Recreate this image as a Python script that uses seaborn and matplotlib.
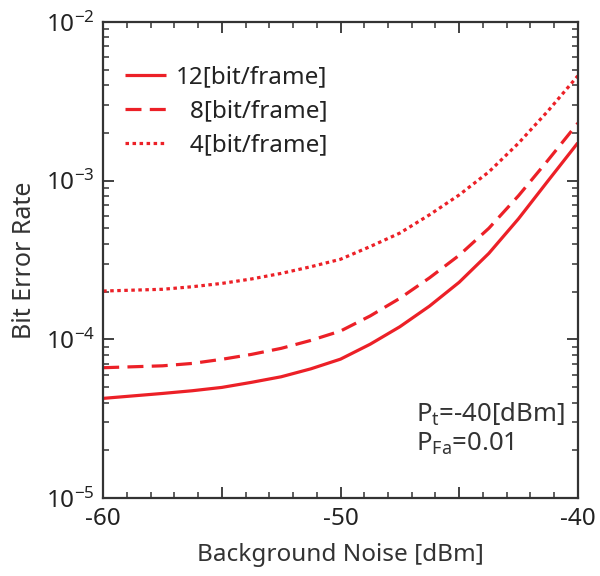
import numpy as np
import pandas as pd
import matplotlib
matplotlib.use("Agg")
import matplotlib.pyplot as plt
import matplotlib.ticker as mticker
import seaborn as sns

# data (log10 of bit error rate)
noise_dbm = [-60, -57.5, -56.25, -55, -53.75, -52.5, -51.25, -50, -48.75, -47.5, -46.25, -45, -43.75, -42.5, -41.25, -40]
log_ber_12 = [-4.371, -4.340, -4.323, -4.302, -4.270, -4.235, -4.185, -4.124, -4.030, -3.920, -3.790, -3.640, -3.458, -3.240, -3.000, -2.762]
log_ber_8 = [-4.178, -4.166, -4.151, -4.125, -4.094, -4.056, -4.006, -3.947, -3.852, -3.741, -3.612, -3.470, -3.300, -3.095, -2.870, -2.638]
log_ber_4 = [-3.695, -3.684, -3.668, -3.647, -3.619, -3.584, -3.542, -3.495, -3.415, -3.330, -3.215, -3.090, -2.945, -2.764, -2.560, -2.340]
series_labels = ["12[bit/frame]", "\u20078[bit/frame]", "\u20074[bit/frame]"]

df = pd.concat([
    pd.DataFrame({"noise": noise_dbm, "ber": 10 ** np.array(vals), "series": lab})
    for vals, lab in zip([log_ber_12, log_ber_8, log_ber_4], series_labels)
])

sns.set_style("ticks")
plt.rcParams["font.family"] = ["Noto Sans", "DejaVu Sans"]
plt.rcParams["mathtext.default"] = "regular"
plt.rcParams["mathtext.fontset"] = "custom"
plt.rcParams["mathtext.rm"] = "Noto Sans"
plt.rcParams["mathtext.it"] = "Noto Sans"

red = "#ec2027"
fig = plt.figure(figsize=(6.0, 5.76), dpi=100)
ax = fig.add_axes([0.172, 0.135, 0.791, 0.827])

# solid / dashed / dotted
sns.lineplot(data=df, x="noise", y="ber", hue="series", style="series",
             palette=[red] * 3, dashes=[(1, 0), (5, 2.6), (1.1, 1.1)],
             linewidth=2.3, ax=ax)

ax.set_yscale("log")
ax.set_xlim(-60, -40)
ax.set_ylim(1e-5, 1e-2)

ax.xaxis.set_major_locator(mticker.MultipleLocator(5))
ax.xaxis.set_minor_locator(mticker.MultipleLocator(1))
ax.xaxis.set_major_formatter(mticker.FuncFormatter(
    lambda v, p: f"{v:.0f}" if abs(v % 10) < 1e-6 else ""))
ax.yaxis.set_major_locator(mticker.LogLocator(base=10, numticks=10))
ax.yaxis.set_minor_locator(mticker.LogLocator(base=10, subs=np.arange(2, 10), numticks=10))
ax.yaxis.set_minor_formatter(mticker.NullFormatter())

ax.tick_params(which="both", direction="in", top=True, right=True, color="#333333",
               labelsize=17.5, labelcolor="#222222", pad=6)
ax.tick_params(which="major", length=8, width=1.3)
ax.tick_params(which="minor", length=4.5, width=1.1)
for s in ax.spines.values():
    s.set_color("#333333")
    s.set_linewidth(1.6)

ax.set_xlabel("Background Noise [dBm]", fontsize=17.5, color="#333333", labelpad=9)
ax.set_ylabel("Bit Error Rate", fontsize=18, color="#333333", labelpad=6)

ax.legend(loc="upper left", bbox_to_anchor=(0.0, 0.955), frameon=False, fontsize=17.5,
          handlelength=1.7, handletextpad=0.4, labelspacing=0.42, title=None,
          labelcolor="#222222")

ax.text(0.66, 0.16, "P$_t$=-40[dBm]", transform=ax.transAxes, fontsize=18.5, color="#333333")
ax.text(0.66, 0.10, "P$_{Fa}$=0.01", transform=ax.transAxes, fontsize=18.5, color="#333333")

fig.savefig("out.png", dpi=100)
